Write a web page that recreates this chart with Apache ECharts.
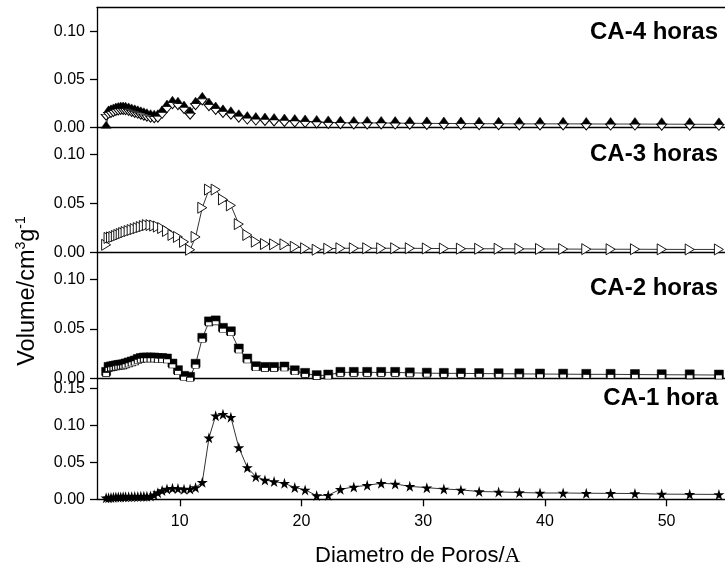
<!DOCTYPE html>
<html><head><meta charset="utf-8">
<script src="https://cdn.jsdelivr.net/npm/echarts@6/dist/echarts.min.js"></script>
<style>html,body{margin:0;padding:0;background:#fff}#c{width:725px;height:573px}</style>
</head><body><div id="c"></div>
<script>
// Pore diameter grid (Å)
const xGrid = [3.95,4.15,4.35,4.55,4.75,4.95,5.15,5.35,5.55,5.8,6.05,6.3,6.55,6.8,7.05,7.3,7.6,7.9,8.2,8.55,8.95,9.4,9.85,10.35,10.85,11.3,11.85,12.4,12.95,13.55,14.2,14.85,15.55,16.25,17.0,17.75,18.6,19.45,20.3,21.25,22.2,23.2,24.3,25.4,26.55,27.7,28.9,30.3,31.7,33.1,34.6,36.2,37.9,39.6,41.5,43.4,45.4,47.4,49.6,51.9,54.3];
// CA-4 horas
const ca4Ads = [0.000,0.016,0.017,0.018,0.019,0.0195,0.020,0.020,0.0198,0.019,0.018,0.017,0.016,0.015,0.014,0.013,0.012,0.0115,0.012,0.016,0.022,0.026,0.025,0.021,0.015,0.025,0.030,0.024,0.020,0.017,0.015,0.012,0.010,0.009,0.0085,0.008,0.0075,0.007,0.0065,0.006,0.0055,0.0052,0.005,0.005,0.005,0.0048,0.0046,0.0045,0.0044,0.0043,0.0042,0.0041,0.004,0.004,0.004,0.0039,0.0038,0.0038,0.0037,0.0036,0.0035];
const ca4Des = [0.014,0.016,0.017,0.018,0.019,0.0195,0.020,0.020,0.0198,0.019,0.018,0.017,0.016,0.015,0.014,0.013,0.012,0.0115,0.012,0.016,0.022,0.026,0.025,0.021,0.015,0.025,0.030,0.024,0.020,0.017,0.015,0.012,0.010,0.009,0.0085,0.008,0.0075,0.007,0.0065,0.006,0.0055,0.0052,0.005,0.005,0.005,0.0048,0.0046,0.0045,0.0044,0.0043,0.0042,0.0041,0.004,0.004,0.004,0.0039,0.0038,0.0038,0.0037,0.0036,0.0035];
// CA-3 horas
const ca3 = [0.008,0.015,0.0155,0.016,0.017,0.018,0.019,0.020,0.021,0.022,0.023,0.024,0.025,0.026,0.027,0.028,0.028,0.0275,0.0265,0.025,0.022,0.018,0.016,0.011,0.003,0.016,0.0456,0.064,0.064,0.054,0.048,0.029,0.018,0.0112,0.0088,0.0085,0.0085,0.006,0.0045,0.003,0.004,0.0045,0.0045,0.0045,0.0045,0.0045,0.0045,0.0043,0.0042,0.0041,0.004,0.004,0.0039,0.0038,0.0037,0.0036,0.0035,0.0035,0.0034,0.0033,0.0033];
// CA-2 horas
const ca2 = [0.006,0.011,0.0115,0.012,0.0125,0.013,0.0133,0.0136,0.0145,0.0155,0.0165,0.0175,0.019,0.020,0.0205,0.0205,0.0205,0.0205,0.020,0.020,0.0195,0.0144,0.0077,0.002,0.001,0.0142,0.0404,0.057,0.058,0.0505,0.047,0.0296,0.0195,0.0117,0.011,0.011,0.0114,0.0076,0.005,0.0027,0.0033,0.006,0.006,0.006,0.006,0.006,0.0055,0.0052,0.005,0.005,0.0048,0.0046,0.0045,0.0043,0.0042,0.004,0.004,0.0038,0.0036,0.0035,0.0033];
// CA-1 hora
const ca1 = [0.002,0.0022,0.0025,0.0027,0.003,0.003,0.0032,0.0033,0.0035,0.0035,0.0036,0.0037,0.0038,0.004,0.004,0.0042,0.0045,0.006,0.009,0.012,0.014,0.015,0.0145,0.0135,0.014,0.016,0.023,0.083,0.113,0.115,0.111,0.070,0.043,0.0306,0.026,0.024,0.0216,0.016,0.0127,0.005,0.0055,0.0135,0.0167,0.019,0.0216,0.0207,0.0175,0.0157,0.014,0.0127,0.0105,0.010,0.0092,0.0085,0.0085,0.0082,0.008,0.0078,0.007,0.0068,0.0066];

const xTicks = [10,20,30,40,50];
const yTicksA = [0,0.05,0.10];
const yTicksB = [0,0.05,0.10,0.15];
const panelNames = ['CA-4 horas','CA-3 horas','CA-2 horas','CA-1 hora'];
const yMax = [0.125,0.1268,0.1269,0.1635];

const pair = arr => xGrid.map((x,i)=>[x,arr[i]]);
const FONT = 'Liberation Sans';
const tops = [7.5,127.7,252.7,378.3];
const heights = [120.2,125,125.6,121];

const grids = tops.map((t,i)=>({left:97,right:-3,top:t,height:heights[i]}));
const xAxes = [];
for(let i=0;i<4;i++){
  const last = i===3;
  xAxes.push({type:'value',gridIndex:i,min:3.2,max:54.8,
    axisLine:{show:true,onZero:false,lineStyle:{color:'#000',width:1.3}},
    splitLine:{show:false},
    axisTick:{show:last,inside:false,length:7,customValues:xTicks,lineStyle:{color:'#000',width:1.3}},
    axisLabel:{show:last,customValues:xTicks,margin:14,color:'#000',fontSize:16,fontFamily:FONT}
  });
}
// top border of first panel
xAxes.push({type:'value',gridIndex:0,position:'top',min:3.2,max:54.8,
  axisLine:{show:true,onZero:false,lineStyle:{color:'#000',width:1.3}},
  splitLine:{show:false},axisTick:{show:false},axisLabel:{show:false}});

const yAxes = [];
for(let i=0;i<4;i++){
  const ticks = i===3?yTicksB:yTicksA;
  yAxes.push({type:'value',gridIndex:i,min:0,max:yMax[i],
    axisLine:{show:true,onZero:false,lineStyle:{color:'#000',width:1.3}},
    splitLine:{show:false},
    axisTick:{show:true,inside:false,length:7,customValues:ticks,lineStyle:{color:'#000',width:1.3}},
    axisLabel:{show:true,customValues:ticks,margin:12,color:'#000',fontSize:16,fontFamily:FONT,
      formatter:v=>v.toFixed(2)}
  });
}

const lineBase = {type:'line',showAllSymbol:true,animation:false,silent:true,clip:false};
const STAR = 'path://M50,0 L61,35 L98,35 L68,57 L79,91 L50,70 L21,91 L32,57 L2,35 L39,35 Z';
const RTRI = 'path://M0,0 L9,5.5 L0,11 Z';
const DTRI = 'path://M0,0 L10,0 L5,8 Z';

const series = [
  Object.assign({},lineBase,{name:'CA-4 ads',xAxisIndex:0,yAxisIndex:0,data:pair(ca4Ads),
    symbol:'triangle',symbolSize:[10,7],symbolOffset:[0,-3],
    itemStyle:{color:'#000',borderColor:'#000',borderWidth:0.5},lineStyle:{color:'#000',width:0.8}}),
  Object.assign({},lineBase,{name:'CA-4 des',xAxisIndex:0,yAxisIndex:0,data:pair(ca4Des),
    symbol:DTRI,symbolSize:[10,6],symbolOffset:[0,3],
    itemStyle:{color:'#fff',borderColor:'#000',borderWidth:0.9},lineStyle:{width:0}}),
  Object.assign({},lineBase,{name:'CA-3',xAxisIndex:1,yAxisIndex:1,data:pair(ca3),
    symbol:RTRI,symbolSize:[9,11],
    itemStyle:{color:'#fff',borderColor:'#000',borderWidth:0.9},lineStyle:{color:'#000',width:0.8}}),
  Object.assign({},lineBase,{name:'CA-2 ads',xAxisIndex:2,yAxisIndex:2,data:pair(ca2),
    symbol:'rect',symbolSize:[9,8],symbolOffset:[0,-1],
    itemStyle:{color:'#000',borderColor:'#000',borderWidth:0.5},lineStyle:{color:'#000',width:0.8}}),
  Object.assign({},lineBase,{name:'CA-2 des',xAxisIndex:2,yAxisIndex:2,data:pair(ca2),
    symbol:'rect',symbolSize:[7,4],symbolOffset:[0,2],
    itemStyle:{color:'#fff',borderColor:'#000',borderWidth:0.8},lineStyle:{width:0}}),
  Object.assign({},lineBase,{name:'CA-1',xAxisIndex:3,yAxisIndex:3,data:pair(ca1),
    symbol:STAR,symbolSize:11,
    itemStyle:{color:'#000',borderColor:'#000',borderWidth:0},lineStyle:{color:'#000',width:0.8}})
];

const labelY = [32.5,154.3,288.3,398.3];
const graphics = panelNames.map((t,i)=>({type:'text',x:718,y:labelY[i],z:100,
  style:{text:t,align:'right',verticalAlign:'middle',fill:'#000',font:'bold 24px "Liberation Sans"'}}));
graphics.push({type:'text',x:315,y:556,z:100,
  style:{text:'Diametro de Poros/{s|A}',align:'left',verticalAlign:'middle',fill:'#000',
    fontSize:22,fontFamily:FONT,
    rich:{s:{fontSize:22,fontFamily:'Liberation Serif',fill:'#000'}}}});
graphics.push({type:'text',x:28,y:291,rotation:Math.PI/2,z:100,
  style:{text:'Volume/cm{sup|3}g{sup|-1}',align:'center',verticalAlign:'middle',fill:'#000',
    fontSize:23.5,fontFamily:FONT,lineHeight:28,
    rich:{sup:{fontSize:14,fontFamily:FONT,verticalAlign:'top',lineHeight:28,fill:'#000'}}}});

const chart = echarts.init(document.getElementById('c'),null,{renderer:'canvas'});
chart.setOption({animation:false,backgroundColor:'#fff',grid:grids,xAxis:xAxes,yAxis:yAxes,series,graphic:graphics});
</script></body></html>
